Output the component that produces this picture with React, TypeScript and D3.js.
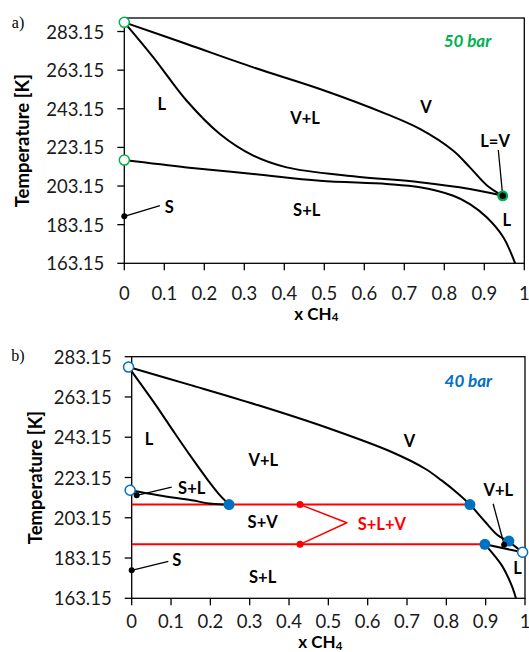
import React from "react";
import * as d3 from "d3";

// ---------- DATA (x CH4, Temperature K) ----------
const xTicks = [0, 0.1, 0.2, 0.3, 0.4, 0.5, 0.6, 0.7, 0.8, 0.9, 1];
const xTickLabels = ["0", "0.1", "0.2", "0.3", "0.4", "0.5", "0.6", "0.7", "0.8", "0.9", "1"];
const yTicks = [163.15, 183.15, 203.15, 223.15, 243.15, 263.15, 283.15];
const yTickLabels = ["163.15", "183.15", "203.15", "223.15", "243.15", "263.15", "283.15"];

// Panel a) 50 bar
const dew50: [number, number][] = [
  [0, 287.9], [0.156, 276.7], [0.3225, 264.6], [0.489, 253.4], [0.656, 240.4],
  [0.739, 232.7], [0.8225, 221.4], [0.864, 212.8], [0.906, 203.6], [0.946, 198.1],
];
const bubble50: [number, number][] = [
  [0, 287.9], [0.0725, 269.8], [0.156, 247.3], [0.239, 230.1], [0.3225, 218.9],
  [0.406, 212.8], [0.5725, 208.2], [0.739, 205.1], [0.864, 201.6], [0.946, 198.1],
];
const sle50: [number, number][] = [
  [0, 216.6], [0.156, 212.8], [0.3225, 209.4], [0.489, 205.9], [0.656, 204.2],
  [0.739, 202.5], [0.8225, 198.1], [0.864, 193.8], [0.906, 186.95], [0.9475, 176.6], [0.977, 163.15],
];
const openPoints50: [number, number][] = [[0, 287.9], [0, 216.6]];
const critical50: [number, number] = [0.946, 198.1];
const solidPoint50: [number, number] = [0, 187.5];

// Panel b) 40 bar
const dew40: [number, number][] = [
  [-0.008, 278.0], [0.1525, 268.9], [0.322, 259.0], [0.4915, 248.2], [0.661, 235.8],
  [0.746, 227.5], [0.788, 221.7], [0.83, 215.1], [0.86, 209.7], [0.898, 201.3],
  [0.93, 194.6], [0.959, 191.2], [0.994, 186.0],
];
const bubble40: [number, number][] = [
  [-0.008, 278.0], [0.06, 259.5], [0.11, 245.0], [0.1525, 233.0], [0.195, 221.5],
  [0.22, 215.3], [0.2475, 209.7],
];
const sleUpper40: [number, number][] = [
  [-0.004, 216.8], [0.0677, 214.3], [0.1525, 211.8], [0.203, 210.1], [0.2475, 209.7],
];
const bubbleRight40: [number, number][] = [[0.898, 189.95], [0.994, 186.0]];
const sleLower40: [number, number][] = [
  [0.898, 189.95], [0.915, 186.1], [0.941, 179.5], [0.966, 169.6], [0.977, 163.15],
];
const threePhaseUpper40: [number, number][] = [[0, 209.7], [0.86, 209.7]];
const threePhaseLower40: [number, number][] = [[0, 189.95], [0.898, 189.95]];
const redDots40: [number, number][] = [[0.428, 209.7], [0.428, 189.95]];
const redApex40: [number, number] = [0.547, 200.7];
const bluePoints40: [number, number][] = [[0.2475, 209.7], [0.86, 209.7], [0.898, 189.95], [0.959, 191.6]];
const openPoints40: [number, number][] = [[-0.008, 278.0], [-0.004, 216.8], [0.994, 186.0]];
const blackDots40: [number, number][] = [[0, 177.05], [0.0127, 214.3], [0.947, 189.75]];

// Annotations: [text, x, T]
const labels50: [string, number, number][] = [
  ["L", 0.0935, 245.6], ["V+L", 0.452, 238.2], ["V", 0.754, 244.2], ["L=V", 0.927, 226.6],
  ["S+L", 0.456, 190.7], ["L", 0.956, 185.6], ["S", 0.1125, 192.4],
];
const leaders50: [number, number, number, number][] = [
  [0, 187.5, 0.089, 193.0], [0.935, 221.8, 0.946, 198.1],
];
const labels40: [string, number, number][] = [
  ["L", 0.044, 242.1], ["V+L", 0.3346, 231.7], ["V", 0.706, 241.1], ["S+L", 0.1526, 217.9],
  ["S+V", 0.333, 201.0], ["V+L", 0.932, 216.8], ["S", 0.1144, 182.0], ["S+L", 0.333, 173.7],
  ["L", 0.981, 178.3],
];
const leaders40: [number, number, number, number][] = [
  [0.0127, 214.3, 0.1017, 218.4], [0.947, 189.75, 0.919, 210.1], [0, 177.05, 0.093, 181.5],
];

const GREEN = "#00B050";
const BLUE = "#0070C0";
const RED = "#FF0000";
const FONT = "Lato, 'Open Sans', sans-serif";

type PanelProps = {
  x0: number; x1: number; yTop: number; yBot: number; tMax: number;
  children: (sx: d3.ScaleLinear<number, number>, sy: d3.ScaleLinear<number, number>) => React.ReactNode;
  titleX: number; xTitleY: number; xTickY: number; letter: string; letterY: number;
};

function Panel({ x0, x1, yTop, yBot, tMax, children, titleX, xTitleY, xTickY, letter, letterY }: PanelProps) {
  const sx = d3.scaleLinear().domain([0, 1]).range([x0, x1]);
  const sy = d3.scaleLinear().domain([163.15, tMax]).range([yBot, yTop]);
  const midY = (yTop + yBot) / 2;
  return (
    <g>
      <text x={18} y={letterY} fontFamily="'Liberation Serif', 'DejaVu Serif', serif" fontSize={16} textAnchor="middle" dominantBaseline="central">{letter}</text>
      <rect x={x0} y={yTop} width={x1 - x0} height={yBot - yTop} fill="none" stroke="#000" strokeWidth={1.3} />
      {yTicks.map((t, i) => (
        <g key={"yt" + i}>
          <line x1={x0 - 7} x2={x0} y1={sy(t)} y2={sy(t)} stroke="#000" strokeWidth={1.3} />
          <text x={x0 - 20} y={sy(t)} textAnchor="end" dominantBaseline="central" fontFamily={FONT} fontSize={18.5} fill="#1a1a1a">{yTickLabels[i]}</text>
        </g>
      ))}
      {xTicks.map((t, i) => (
        <g key={"xt" + i}>
          <line x1={sx(t)} x2={sx(t)} y1={yBot} y2={yBot + 7} stroke="#000" strokeWidth={1.3} />
          <text x={sx(t)} y={xTickY} textAnchor="middle" dominantBaseline="central" fontFamily={FONT} fontSize={18.5} fill="#1a1a1a">{xTickLabels[i]}</text>
        </g>
      ))}
      <text transform={`translate(${titleX},${midY}) rotate(-90)`} textAnchor="middle" dominantBaseline="central" fontFamily={FONT} fontWeight="bold" fontSize={18.5}>Temperature [K]</text>
      <text x={(x0 + x1) / 2 - 8} y={xTitleY} textAnchor="middle" dominantBaseline="central" fontFamily={FONT} fontWeight="bold" fontSize={17}>
        x CH<tspan fontSize={11.5} dy={3}>4</tspan>
      </text>
      {children(sx, sy)}
    </g>
  );
}

function Curve({ data, sx, sy, color = "#000", width = 2, curved = true }: any) {
  const line = d3.line<[number, number]>()
    .x((d) => sx(d[0]))
    .y((d) => sy(d[1]))
    .curve(curved ? d3.curveCatmullRom.alpha(0.5) : d3.curveLinear);
  return <path d={line(data) || ""} fill="none" stroke={color} strokeWidth={width} strokeLinejoin="round" />;
}

function Labels({ items, sx, sy, color = "#000" }: any) {
  return (
    <g>
      {items.map((d: [string, number, number], i: number) => (
        <text key={i} x={sx(d[1])} y={sy(d[2])} textAnchor="middle" dominantBaseline="central"
          fontFamily={FONT} fontWeight="bold" fontSize={16.5} fill={color}>{d[0]}</text>
      ))}
    </g>
  );
}

function Leaders({ items, sx, sy }: any) {
  return (
    <g>
      {items.map((d: number[], i: number) => (
        <line key={i} x1={sx(d[0])} y1={sy(d[1])} x2={sx(d[2])} y2={sy(d[3])} stroke="#000" strokeWidth={1.3} />
      ))}
    </g>
  );
}

export default function App() {
  return (
    <svg width={529} height={652} style={{ position: "absolute", left: 0, top: 0, background: "#fff" }}>
      <rect width={529} height={652} fill="#fff" />
      <Panel x0={124.3} x1={524.3} yTop={18} yBot={263.3} tMax={290.15} titleX={22} xTitleY={313} xTickY={293} letter="a)" letterY={22}>
        {(sx, sy) => (
          <g>
            <Curve data={dew50} sx={sx} sy={sy} />
            <Curve data={bubble50} sx={sx} sy={sy} />
            <Curve data={sle50} sx={sx} sy={sy} />
            <Leaders items={leaders50} sx={sx} sy={sy} />
            {openPoints50.map((p, i) => (
              <circle key={i} cx={sx(p[0])} cy={sy(p[1])} r={5} fill="#fff" stroke={GREEN} strokeWidth={1.5} />
            ))}
            <circle cx={sx(critical50[0])} cy={sy(critical50[1])} r={5.5} fill={GREEN} />
            <circle cx={sx(critical50[0])} cy={sy(critical50[1])} r={3.2} fill="#000" />
            <circle cx={sx(solidPoint50[0])} cy={sy(solidPoint50[1])} r={3} fill="#000" />
            <Labels items={labels50} sx={sx} sy={sy} />
            <text x={sx(0.858)} y={sy(278.4)} textAnchor="middle" dominantBaseline="central" fontFamily={FONT}
              fontWeight="bold" fontStyle="italic" fontSize={17} fill={GREEN}>50 bar</text>
          </g>
        )}
      </Panel>
      <Panel x0={131.7} x1={525} yTop={356.7} yBot={598.3} tMax={283.15} titleX={35} xTitleY={641.5} xTickY={621} letter="b)" letterY={355}>
        {(sx, sy) => (
          <g>
            <Curve data={threePhaseUpper40} sx={sx} sy={sy} color={RED} curved={false} />
            <Curve data={threePhaseLower40} sx={sx} sy={sy} color={RED} curved={false} />
            <Curve data={[redDots40[0], redApex40, redDots40[1]]} sx={sx} sy={sy} color={RED} width={1.5} curved={false} />
            {redDots40.map((p, i) => (
              <circle key={i} cx={sx(p[0])} cy={sy(p[1])} r={3.5} fill={RED} />
            ))}
            <Curve data={dew40} sx={sx} sy={sy} />
            <Curve data={bubble40} sx={sx} sy={sy} />
            <Curve data={sleUpper40} sx={sx} sy={sy} />
            <Curve data={bubbleRight40} sx={sx} sy={sy} curved={false} />
            <Curve data={sleLower40} sx={sx} sy={sy} />
            <Leaders items={leaders40} sx={sx} sy={sy} />
            {bluePoints40.map((p, i) => (
              <circle key={i} cx={sx(p[0])} cy={sy(p[1])} r={5.5} fill={BLUE} />
            ))}
            {openPoints40.map((p, i) => (
              <circle key={i} cx={sx(p[0])} cy={sy(p[1])} r={5} fill="#fff" stroke={BLUE} strokeWidth={1.5} />
            ))}
            {blackDots40.map((p, i) => (
              <circle key={i} cx={sx(p[0])} cy={sy(p[1])} r={3} fill="#000" />
            ))}
            <Labels items={labels40} sx={sx} sy={sy} />
            <text x={sx(0.636)} y={sy(200.2)} textAnchor="middle" dominantBaseline="central" fontFamily={FONT}
              fontWeight="bold" fontSize={16.5} fill={RED}>S+L+V</text>
            <text x={sx(0.856)} y={sy(271.4)} textAnchor="middle" dominantBaseline="central" fontFamily={FONT}
              fontWeight="bold" fontStyle="italic" fontSize={17} fill={BLUE}>40 bar</text>
          </g>
        )}
      </Panel>
    </svg>
  );
}
